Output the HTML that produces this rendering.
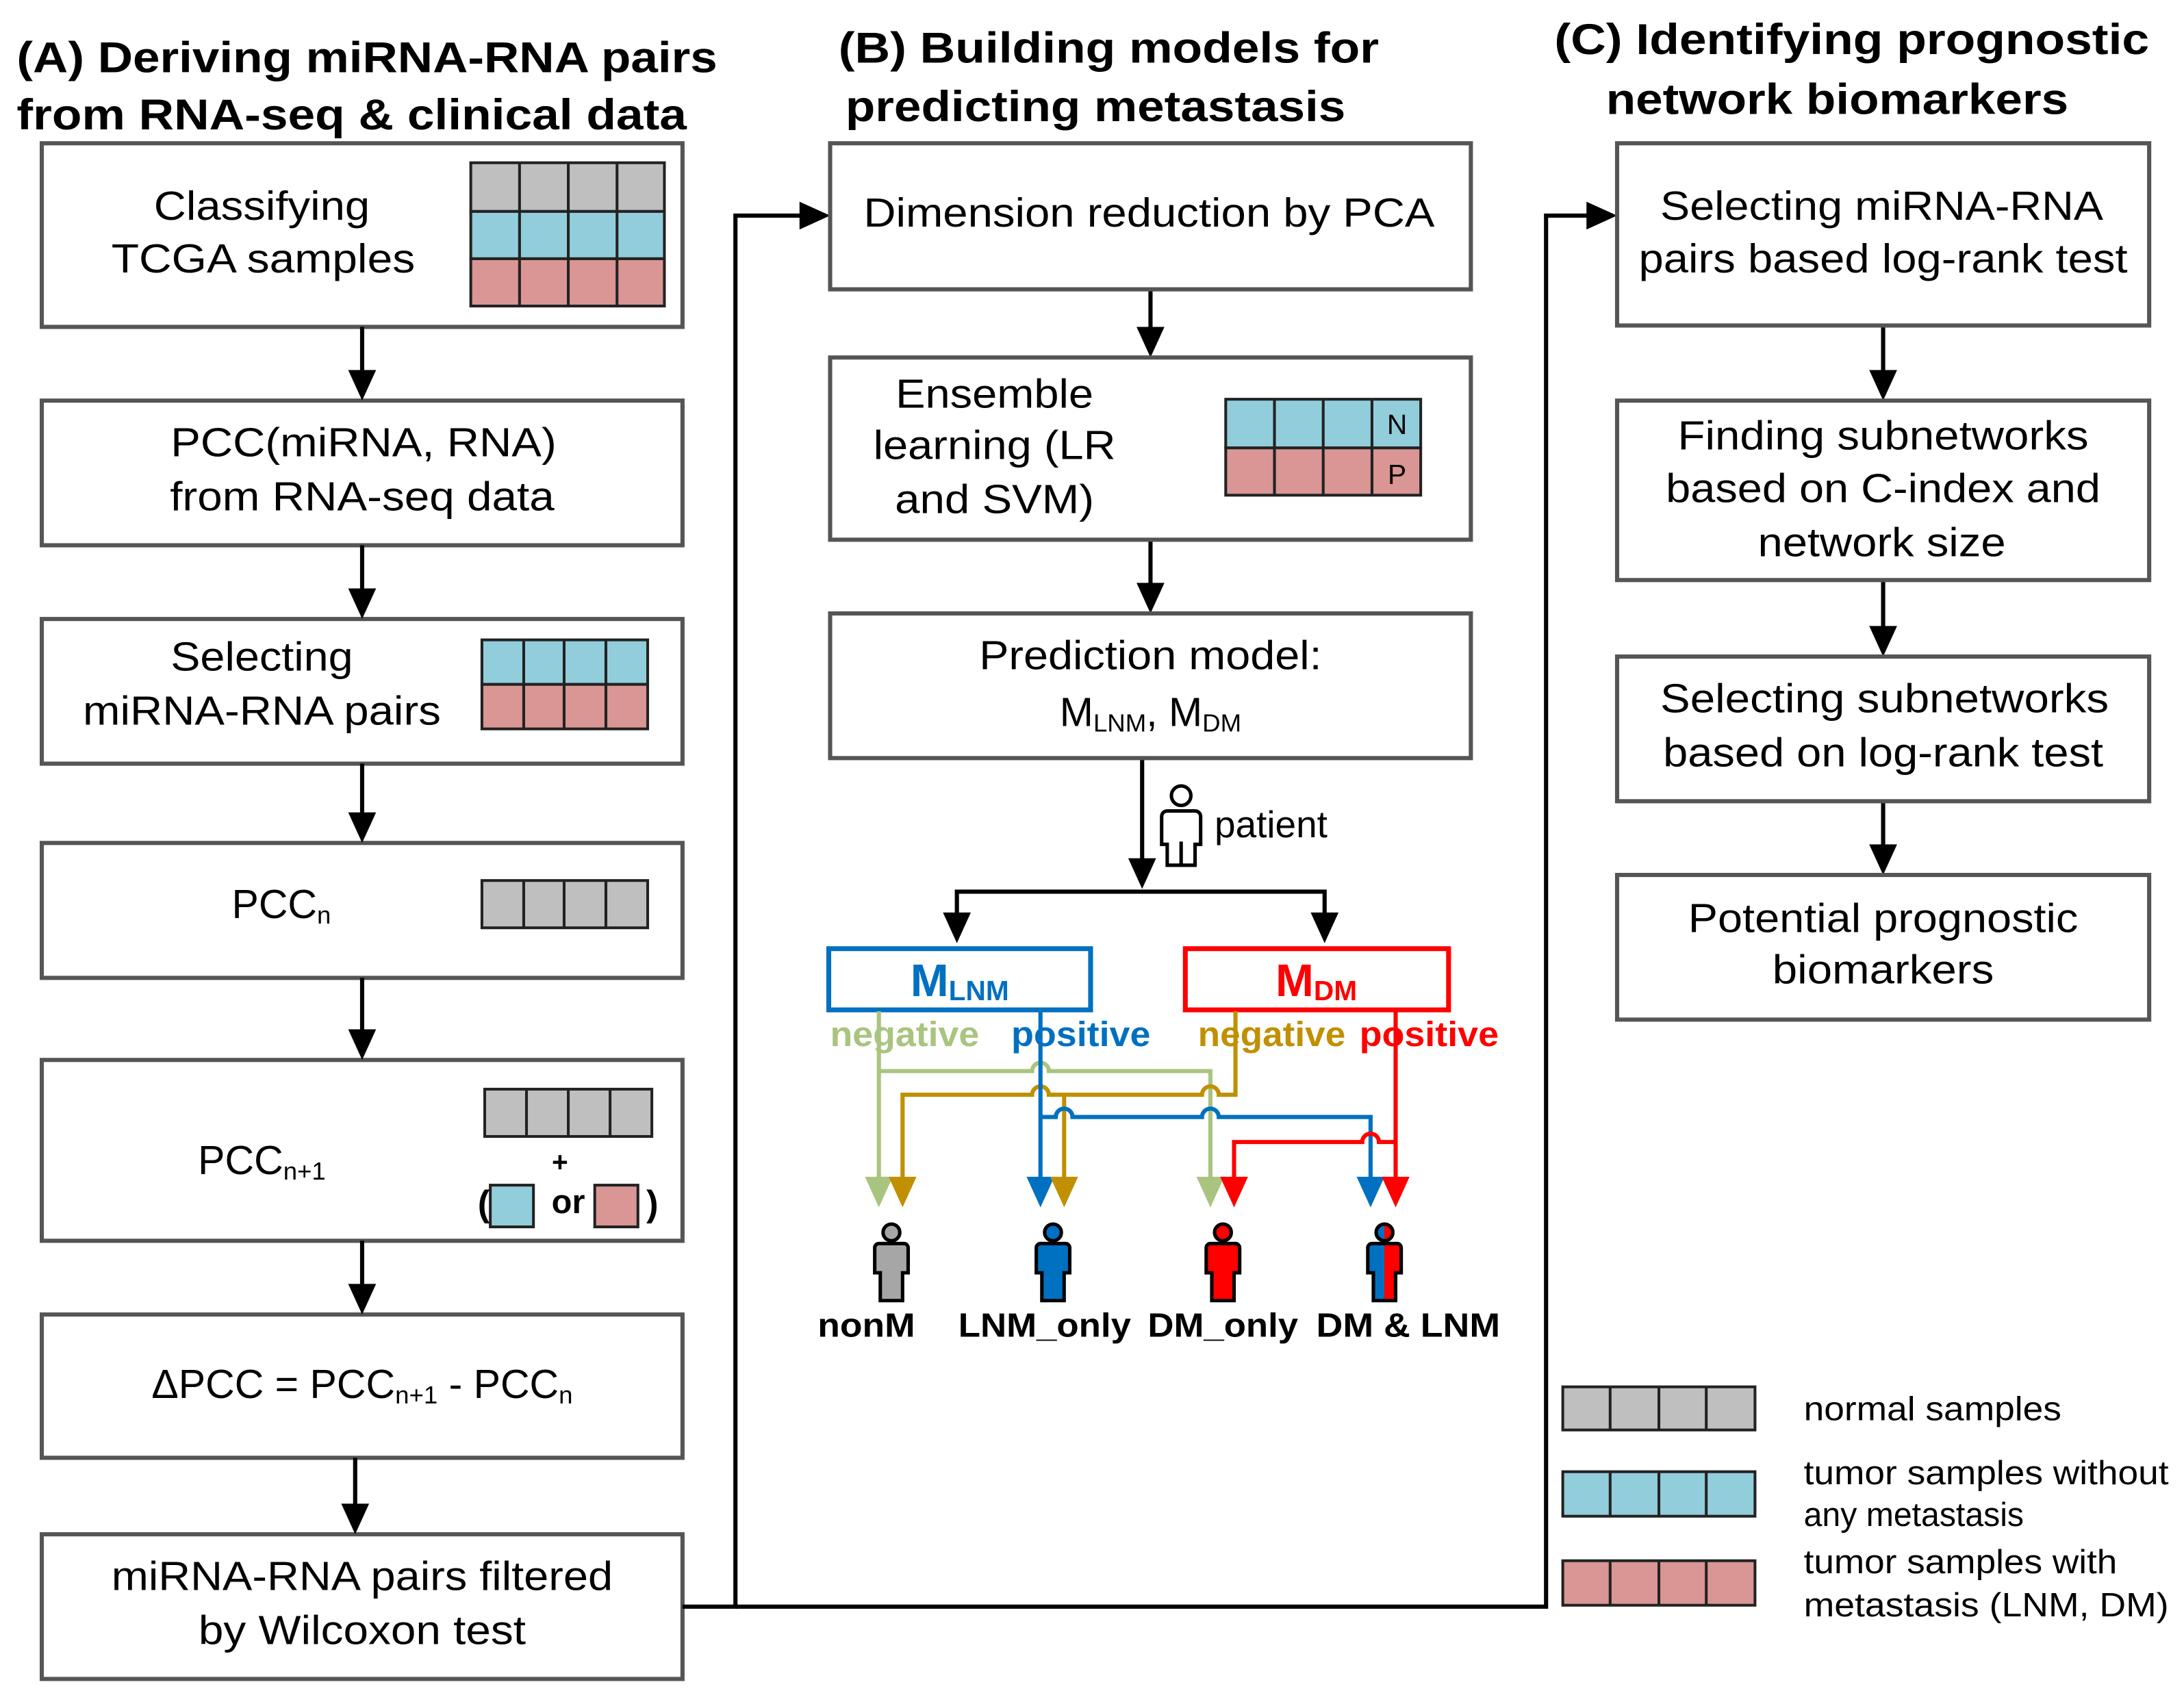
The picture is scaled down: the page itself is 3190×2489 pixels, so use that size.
<!DOCTYPE html>
<html><head><meta charset="utf-8"><style>
html,body{margin:0;padding:0;background:#fff;}
svg{display:block;}
text{font-family:"Liberation Sans",Arial,sans-serif;}
.t{font-size:29px;fill:#000;text-anchor:middle;}
.h{font-size:31px;font-weight:bold;fill:#000;}
.bx{fill:#fff;stroke:#555;stroke-width:3;}
.g{stroke:#222;stroke-width:2;}
</style></head><body>
<svg width="3190" height="2489" viewBox="0 0 1568 1225" preserveAspectRatio="none" xmlns="http://www.w3.org/2000/svg">
<defs>
<linearGradient id="half" x1="0" x2="1" y1="0" y2="0"><stop offset="0.5" stop-color="#0070C0"/><stop offset="0.5" stop-color="#FF0000"/></linearGradient>
</defs>
<!-- Titles -->
<text class="h" x="12" y="52" textLength="503" lengthAdjust="spacingAndGlyphs">(A) Deriving miRNA-RNA pairs</text>
<text class="h" x="12" y="93" textLength="481" lengthAdjust="spacingAndGlyphs">from RNA-seq &amp; clinical data</text>
<text class="h" x="602" y="45" textLength="388" lengthAdjust="spacingAndGlyphs">(B) Building models for</text>
<text class="h" x="607" y="87" textLength="359" lengthAdjust="spacingAndGlyphs">predicting metastasis</text>
<text class="h" x="1116" y="39" textLength="427" lengthAdjust="spacingAndGlyphs">(C) Identifying prognostic</text>
<text class="h" x="1153" y="82" textLength="332" lengthAdjust="spacingAndGlyphs">network biomarkers</text>

<!-- Column A boxes -->
<rect class="bx" x="30" y="103" width="460" height="132"/>
<text class="t" x="188" y="158" textLength="155" lengthAdjust="spacingAndGlyphs">Classifying</text>
<text class="t" x="189" y="196" textLength="218" lengthAdjust="spacingAndGlyphs">TCGA samples</text>
<g class="g">
<rect x="338" y="117" width="139" height="35" fill="#BFBFBF"/>
<rect x="338" y="152" width="139" height="34" fill="#92CDDC"/>
<rect x="338" y="186" width="139" height="34" fill="#D99694"/>
<line x1="373" y1="117" x2="373" y2="220"/><line x1="408" y1="117" x2="408" y2="220"/><line x1="443" y1="117" x2="443" y2="220"/>
</g>

<rect class="bx" x="30" y="288" width="460" height="104"/>
<text class="t" x="261" y="328" textLength="277" lengthAdjust="spacingAndGlyphs">PCC(miRNA, RNA)</text>
<text class="t" x="260" y="367" textLength="276" lengthAdjust="spacingAndGlyphs">from RNA-seq data</text>

<rect class="bx" x="30" y="445" width="460" height="104"/>
<text class="t" x="188" y="482" textLength="131" lengthAdjust="spacingAndGlyphs">Selecting</text>
<text class="t" x="188" y="521" textLength="257" lengthAdjust="spacingAndGlyphs">miRNA-RNA pairs</text>
<g class="g">
<rect x="346" y="460" width="119" height="32" fill="#92CDDC"/>
<rect x="346" y="492" width="119" height="32" fill="#D99694"/>
<line x1="376" y1="460" x2="376" y2="524"/><line x1="405" y1="460" x2="405" y2="524"/><line x1="435" y1="460" x2="435" y2="524"/>
</g>

<rect class="bx" x="30" y="606" width="460" height="97"/>
<text class="t" x="202" y="660">PCC<tspan font-size="18" dy="4">n</tspan></text>
<g class="g">
<rect x="346" y="633" width="119" height="34" fill="#BFBFBF"/>
<line x1="376" y1="633" x2="376" y2="667"/><line x1="405" y1="633" x2="405" y2="667"/><line x1="435" y1="633" x2="435" y2="667"/>
</g>

<rect class="bx" x="30" y="762" width="460" height="130"/>
<text class="t" x="188" y="844">PCC<tspan font-size="18" dy="4">n+1</tspan></text>
<g class="g">
<rect x="348" y="783" width="120" height="34" fill="#BFBFBF"/>
<line x1="378" y1="783" x2="378" y2="817"/><line x1="408" y1="783" x2="408" y2="817"/><line x1="438" y1="783" x2="438" y2="817"/>
<rect x="352" y="852" width="31" height="30" fill="#92CDDC"/>
<rect x="427" y="852" width="31" height="30" fill="#D99694"/>
</g>
<text x="402" y="842" font-size="20" font-weight="bold" text-anchor="middle">+</text>
<text x="343" y="874" font-size="26" font-weight="bold">(</text>
<text x="396" y="872" font-size="24" font-weight="bold">or</text>
<text x="464" y="874" font-size="26" font-weight="bold">)</text>

<rect class="bx" x="30" y="945" width="460" height="103"/>
<text class="t" x="260" y="1005">ΔPCC = PCC<tspan font-size="18" dy="4">n+1</tspan><tspan dy="-4"> - PCC</tspan><tspan font-size="18" dy="4">n</tspan></text>

<rect class="bx" x="30" y="1103" width="460" height="104"/>
<text class="t" x="260" y="1143" textLength="360" lengthAdjust="spacingAndGlyphs">miRNA-RNA pairs filtered</text>
<text class="t" x="260" y="1182" textLength="235" lengthAdjust="spacingAndGlyphs">by Wilcoxon test</text>

<!-- A arrows -->
<g stroke="#000" stroke-width="3" fill="none">
<line x1="260" y1="235" x2="260" y2="268"/>
<line x1="260" y1="392" x2="260" y2="425"/>
<line x1="260" y1="549" x2="260" y2="586"/>
<line x1="260" y1="703" x2="260" y2="742"/>
<line x1="260" y1="892" x2="260" y2="925"/>
<line x1="255" y1="1048" x2="255" y2="1083"/>
<polyline points="490,1155 528,1155 528,155 576,155"/>
<polyline points="528,1155 1110,1155 1110,155 1140,155"/>
<line x1="826" y1="208" x2="826" y2="237"/>
<line x1="826" y1="388" x2="826" y2="421"/>
<line x1="820" y1="545" x2="820" y2="618"/>
<polyline points="687,658 687,641 951,641 951,658"/>
<line x1="1352" y1="234" x2="1352" y2="268"/>
<line x1="1352" y1="417" x2="1352" y2="452"/>
<line x1="1352" y1="576" x2="1352" y2="609"/>
</g>
<g fill="#000">
<polygon points="250,266 270,266 260,288"/><polygon points="250,423 270,423 260,445"/>
<polygon points="250,584 270,584 260,606"/><polygon points="250,740 270,740 260,762"/>
<polygon points="250,923 270,923 260,945"/><polygon points="245,1081 265,1081 255,1103"/>
<polygon points="574,145 574,165 596,155"/><polygon points="1139,145 1139,165 1161,155"/>
<polygon points="816,235 836,235 826,257"/><polygon points="816,419 836,419 826,441"/>
<polygon points="810,617 830,617 820,639"/>
<polygon points="677,656 697,656 687,678"/><polygon points="941,656 961,656 951,678"/>
<polygon points="1342,266 1362,266 1352,288"/><polygon points="1342,450 1362,450 1352,472"/>
<polygon points="1342,607 1362,607 1352,629"/>
</g>

<!-- Column B -->
<rect class="bx" x="596" y="103" width="460" height="105"/>
<text class="t" x="825" y="163" textLength="410" lengthAdjust="spacingAndGlyphs">Dimension reduction by PCA</text>

<rect class="bx" x="596" y="257" width="460" height="131"/>
<text class="t" x="714" y="293" textLength="142" lengthAdjust="spacingAndGlyphs">Ensemble</text>
<text class="t" x="714" y="330" textLength="174" lengthAdjust="spacingAndGlyphs">learning (LR</text>
<text class="t" x="714" y="369" textLength="143" lengthAdjust="spacingAndGlyphs">and SVM)</text>
<g class="g">
<rect x="880" y="287" width="140" height="35" fill="#92CDDC"/>
<rect x="880" y="322" width="140" height="34" fill="#D99694"/>
<line x1="915" y1="287" x2="915" y2="356"/><line x1="950" y1="287" x2="950" y2="356"/><line x1="985" y1="287" x2="985" y2="356"/>
</g>
<text x="1003" y="312" font-size="20" text-anchor="middle">N</text>
<text x="1003" y="348" font-size="20" text-anchor="middle">P</text>

<rect class="bx" x="596" y="441" width="460" height="104"/>
<text class="t" x="826" y="481" textLength="246" lengthAdjust="spacingAndGlyphs">Prediction model:</text>
<text class="t" x="826" y="522">M<tspan font-size="18" dy="4">LNM</tspan><tspan dy="-4">, M</tspan><tspan font-size="18" dy="4">DM</tspan></text>

<!-- patient icon -->
<g stroke="#000" stroke-width="2.5" fill="#fff">
<circle cx="848" cy="572" r="7"/>
<path d="M838,583 h20 a4,4 0 0 1 4,4 v20 h-4 v15 h-20 v-15 h-4 v-20 a4,4 0 0 1 4,-4 z"/>
<line x1="848" y1="605" x2="848" y2="622"/>
</g>
<text x="872" y="602" font-size="27">patient</text>

<rect x="595" y="682" width="188" height="44" fill="#fff" stroke="#0070C0" stroke-width="3.5"/>
<text x="689" y="716" font-size="33" font-weight="bold" fill="#0070C0" text-anchor="middle">M<tspan font-size="20" dy="3">LNM</tspan></text>
<rect x="851" y="682" width="189" height="44" fill="#fff" stroke="#FF0000" stroke-width="3.5"/>
<text x="945" y="716" font-size="33" font-weight="bold" fill="#FF0000" text-anchor="middle">M<tspan font-size="20" dy="3">DM</tspan></text>

<text x="596" y="752" font-size="25" font-weight="bold" fill="#A9C47F" textLength="107" lengthAdjust="spacingAndGlyphs">negative</text>
<text x="726" y="752" font-size="25" font-weight="bold" fill="#0070C0" textLength="100" lengthAdjust="spacingAndGlyphs">positive</text>
<text x="860" y="752" font-size="25" font-weight="bold" fill="#C09000" textLength="106" lengthAdjust="spacingAndGlyphs">negative</text>
<text x="976" y="752" font-size="25" font-weight="bold" fill="#FF0000" textLength="100" lengthAdjust="spacingAndGlyphs">positive</text>

<g fill="none" stroke-width="3">
<path stroke="#A9C47F" d="M631,727 V848 M631,770 H741 A6,6 0 0 1 753,770 H869 V848"/>
<path stroke="#C09000" d="M887,727 V787 H875 A6,6 0 0 0 863,787 H753 A6,6 0 0 0 741,787 H648 V848 M764,787 V848"/>
<path stroke="#0070C0" d="M747,727 V848 M747,803 H758 A6,6 0 0 1 770,803 H863 A6,6 0 0 1 875,803 H984 V848"/>
<path stroke="#FF0000" d="M1002,727 V848 M1002,821 H990 A6,6 0 0 0 978,821 H886 V848"/>
</g>
<polygon fill="#A9C47F" points="621,846 641,846 631,868"/>
<polygon fill="#C09000" points="638,846 658,846 648,868"/>
<polygon fill="#0070C0" points="737,846 757,846 747,868"/>
<polygon fill="#C09000" points="754,846 774,846 764,868"/>
<polygon fill="#A9C47F" points="859,846 879,846 869,868"/>
<polygon fill="#FF0000" points="876,846 896,846 886,868"/>
<polygon fill="#0070C0" points="974,846 994,846 984,868"/>
<polygon fill="#FF0000" points="992,846 1012,846 1002,868"/>

<!-- people -->
<g stroke="#000" stroke-width="2.5">
<g fill="#A6A6A6"><circle cx="640" cy="886" r="6"/><path d="M631,894 h18 a3,3 0 0 1 3,3 v18 h-4 v20 h-16 v-20 h-4 v-18 a3,3 0 0 1 3,-3 z"/></g>
<g fill="#0070C0"><circle cx="756" cy="886" r="6"/><path d="M747,894 h18 a3,3 0 0 1 3,3 v18 h-4 v20 h-16 v-20 h-4 v-18 a3,3 0 0 1 3,-3 z"/></g>
<g fill="#FF0000"><circle cx="878" cy="886" r="6"/><path d="M869,894 h18 a3,3 0 0 1 3,3 v18 h-4 v20 h-16 v-20 h-4 v-18 a3,3 0 0 1 3,-3 z"/></g>
<g fill="url(#half)"><circle cx="994" cy="886" r="6"/><path d="M985,894 h18 a3,3 0 0 1 3,3 v18 h-4 v20 h-16 v-20 h-4 v-18 a3,3 0 0 1 3,-3 z"/></g>
</g>
<g font-size="24" font-weight="bold" text-anchor="middle">
<text x="622" y="961" textLength="70" lengthAdjust="spacingAndGlyphs">nonM</text>
<text x="750" y="961" textLength="124" lengthAdjust="spacingAndGlyphs">LNM_only</text>
<text x="878" y="961" textLength="108" lengthAdjust="spacingAndGlyphs">DM_only</text>
<text x="1011" y="961" textLength="132" lengthAdjust="spacingAndGlyphs">DM &amp; LNM</text>
</g>

<!-- Column C -->
<rect class="bx" x="1161" y="103" width="382" height="131"/>
<text class="t" x="1351" y="158" textLength="318" lengthAdjust="spacingAndGlyphs">Selecting miRNA-RNA</text>
<text class="t" x="1352" y="196" textLength="351" lengthAdjust="spacingAndGlyphs">pairs based log-rank test</text>
<rect class="bx" x="1161" y="288" width="382" height="129"/>
<text class="t" x="1352" y="323" textLength="295" lengthAdjust="spacingAndGlyphs">Finding subnetworks</text>
<text class="t" x="1352" y="361" textLength="312" lengthAdjust="spacingAndGlyphs">based on C-index and</text>
<text class="t" x="1351" y="400" textLength="178" lengthAdjust="spacingAndGlyphs">network size</text>
<rect class="bx" x="1161" y="472" width="382" height="104"/>
<text class="t" x="1353" y="512" textLength="322" lengthAdjust="spacingAndGlyphs">Selecting subnetworks</text>
<text class="t" x="1352" y="551" textLength="316" lengthAdjust="spacingAndGlyphs">based on log-rank test</text>
<rect class="bx" x="1161" y="629" width="382" height="104"/>
<text class="t" x="1352" y="670" textLength="280" lengthAdjust="spacingAndGlyphs">Potential prognostic</text>
<text class="t" x="1352" y="707" textLength="159" lengthAdjust="spacingAndGlyphs">biomarkers</text>

<!-- legend -->
<g class="g">
<rect x="1122" y="997" width="138" height="31" fill="#BFBFBF"/>
<line x1="1156" y1="997" x2="1156" y2="1028"/><line x1="1191" y1="997" x2="1191" y2="1028"/><line x1="1225" y1="997" x2="1225" y2="1028"/>
<rect x="1122" y="1058" width="138" height="32" fill="#92CDDC"/>
<line x1="1156" y1="1058" x2="1156" y2="1090"/><line x1="1191" y1="1058" x2="1191" y2="1090"/><line x1="1225" y1="1058" x2="1225" y2="1090"/>
<rect x="1122" y="1122" width="138" height="32" fill="#D99694"/>
<line x1="1156" y1="1122" x2="1156" y2="1154"/><line x1="1191" y1="1122" x2="1191" y2="1154"/><line x1="1225" y1="1122" x2="1225" y2="1154"/>
</g>
<g font-size="24">
<text x="1295" y="1021" textLength="185" lengthAdjust="spacingAndGlyphs">normal samples</text>
<text x="1295" y="1067" textLength="262" lengthAdjust="spacingAndGlyphs">tumor samples without</text>
<text x="1295" y="1097" textLength="158" lengthAdjust="spacingAndGlyphs">any metastasis</text>
<text x="1295" y="1131" textLength="225" lengthAdjust="spacingAndGlyphs">tumor samples with</text>
<text x="1295" y="1162" textLength="262" lengthAdjust="spacingAndGlyphs">metastasis (LNM, DM)</text>
</g>
</svg>
</body></html>
